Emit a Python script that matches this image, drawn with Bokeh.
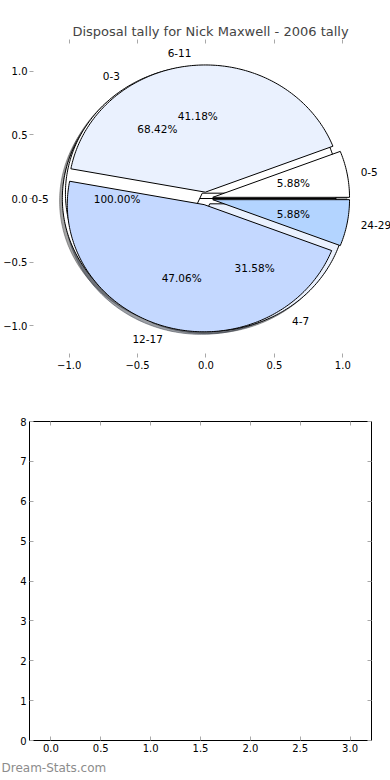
import numpy as np
from bokeh.plotting import figure
from bokeh.layouts import column
from bokeh.models import LinearAxis, FixedTicker, Title, Range1d, Label
from bokeh.embed import file_html
from bokeh.resources import INLINE

# ---------------- data ----------------
title_text = "Disposal tally for Nick Maxwell - 2006 tally"
watermark_text = "Dream-Stats.com"

pie1_labels = ["0-5"]
pie1_values = [1]
pie2_labels = ["0-3", "4-7"]
pie2_values = [13, 6]
pie3_labels = ["0-5", "6-11", "12-17", "24-29"]
pie3_values = [1, 7, 8, 1]

slice_colors = ["#FFFFFF", "#EAF1FE", "#C4D8FF", "#B3D4FF"]
explode_amount = 0.05

pie_ticks = [-1.0, -0.5, 0.0, 0.5, 1.0]
pie_tick_labels = ["\u22121.0", "\u22120.5", "0.0", "0.5", "1.0"]

empty_x_ticks = [0.0, 0.5, 1.0, 1.5, 2.0, 2.5, 3.0]
empty_x_tick_labels = ["0.0", "0.5", "1.0", "1.5", "2.0", "2.5", "3.0"]
empty_y_ticks = [0, 1, 2, 3, 4, 5, 6, 7, 8]

FONT = "DejaVu Sans"
TICK_COLOR = "#A8A8A8"


def shade(hex_color, k=0.3):
    h = hex_color.lstrip("#")
    r, g, b = (int(h[i:i + 2], 16) for i in (0, 2, 4))
    return "#%02X%02X%02X" % (int(r * k), int(g * k), int(b * k))


def build_pie(labels, values):
    total = float(sum(values))
    out = []
    start = 0.0
    for i, (lab, v) in enumerate(zip(labels, values)):
        frac = v / total
        t1 = start * 360.0
        t2 = (start + frac) * 360.0
        tm = np.radians((t1 + t2) / 2.0)
        cx = explode_amount * np.cos(tm)
        cy = explode_amount * np.sin(tm)
        n = max(int(abs(t2 - t1)) + 2, 4)
        ts = np.radians(np.linspace(t1, t2, n))
        xs = [cx] + list(cx + np.cos(ts)) + [cx]
        ys = [cy] + list(cy + np.sin(ts)) + [cy]
        lx = cx + 1.1 * np.cos(tm)
        ly = cy + 1.1 * np.sin(tm)
        px = cx + 0.6 * np.cos(tm)
        py = cy + 0.6 * np.sin(tm)
        out.append(dict(xs=xs, ys=ys, color=slice_colors[i % len(slice_colors)],
                        label=lab, lx=float(lx), ly=float(ly),
                        pct="%.2f%%" % (frac * 100), px=float(px), py=float(py)))
        start += frac
    return out


pies = [build_pie(pie1_labels, pie1_values),
        build_pie(pie2_labels, pie2_values),
        build_pie(pie3_labels, pie3_values)]


def style_ticks(ax, show_labels=True):
    ax.major_tick_in = 4
    ax.major_tick_out = 0
    ax.minor_tick_line_color = None
    ax.major_tick_line_color = TICK_COLOR
    ax.major_label_text_font = FONT
    ax.major_label_text_font_size = "10px"
    ax.major_label_text_color = "black"
    ax.major_label_standoff = 3
    if not show_labels:
        ax.major_label_text_font_size = "0px"
        ax.major_label_text_color = None
        ax.major_label_standoff = 0


# ---------------- pie figure ----------------
# the frame is a little wider than the pie's +-1.25 box so that the outer
# slice labels are not clipped
p = figure(frame_width=362, frame_height=318,
           x_range=Range1d(-1.29, 1.356), y_range=Range1d(-1.25, 1.25),
           min_border_left=27, min_border_right=0,
           min_border_top=39, min_border_bottom=30,
           output_backend="svg", toolbar_location=None,
           title=title_text)
p.title.text_font = FONT
p.title.text_font_size = "13px"
p.title.text_font_style = "normal"
p.title.align = "center"
p.title.standoff = 2
p.grid.visible = False
p.outline_line_color = None

for ax in (p.xaxis[0], p.yaxis[0]):
    ax.ticker = FixedTicker(ticks=pie_ticks)
    ax.major_label_overrides = dict(zip(pie_ticks, pie_tick_labels))
    ax.axis_line_color = None
    style_ticks(ax)
p.yaxis[0].major_label_standoff = 2

top_ax = LinearAxis(ticker=FixedTicker(ticks=pie_ticks), axis_line_color=None)
style_ticks(top_ax, show_labels=False)
p.add_layout(top_ax, "above")

# shadows (all below all wedges)
sh_xs, sh_ys, sh_c = [], [], []
for pie in pies:
    for w in pie:
        sh_xs.append([x - 0.02 for x in w["xs"]])
        sh_ys.append([y - 0.02 for y in w["ys"]])
        sh_c.append(shade(w["color"]))
p.patches(xs=sh_xs, ys=sh_ys, fill_color=sh_c, fill_alpha=0.5,
          line_color=sh_c, line_alpha=0.5, line_width=1)

# wedges, one pie after another
for pie in pies:
    p.patches(xs=[w["xs"] for w in pie], ys=[w["ys"] for w in pie],
              fill_color=[w["color"] for w in pie],
              line_color="black", line_width=1)

# slice labels and percentages
for pie in pies:
    for w in pie:
        p.add_layout(Label(x=w["lx"], y=w["ly"], text=w["label"],
                           text_align="left" if w["lx"] > 0 else "right",
                           text_baseline="middle", text_font=FONT,
                           text_font_size="10.5px", text_color="black"))
        p.add_layout(Label(x=w["px"], y=w["py"], text=w["pct"],
                           text_align="center", text_baseline="middle",
                           text_font=FONT, text_font_size="10.5px",
                           text_color="black"))

# ---------------- empty axes ----------------
q = figure(frame_width=342, frame_height=319,
           x_range=Range1d(-0.215, 3.215), y_range=Range1d(0, 8),
           min_border_left=28, min_border_right=20,
           min_border_top=34, min_border_bottom=40,
           output_backend="svg", toolbar_location=None)
q.grid.visible = False
q.outline_line_color = "black"
q.outline_line_width = 1
q.xaxis[0].ticker = FixedTicker(ticks=empty_x_ticks)
q.xaxis[0].major_label_overrides = dict(zip(empty_x_ticks, empty_x_tick_labels))
q.yaxis[0].ticker = FixedTicker(ticks=empty_y_ticks)
for ax in (q.xaxis[0], q.yaxis[0]):
    ax.axis_line_color = None
    style_ticks(ax)
qt = LinearAxis(ticker=FixedTicker(ticks=empty_x_ticks), axis_line_color=None)
style_ticks(qt, show_labels=False)
q.add_layout(qt, "above")
qr = LinearAxis(ticker=FixedTicker(ticks=empty_y_ticks), axis_line_color=None)
style_ticks(qr, show_labels=False)
q.add_layout(qr, "right")
q.scatter(x=[], y=[])

wm = Title(text=watermark_text, align="left", text_color="#8C8C8C",
           text_font=FONT, text_font_size="12px", text_font_style="normal",
           offset=-28, standoff=8)
q.add_layout(wm, "below")

layout = column(p, q, spacing=0)
open("out.html", "w").write(file_html(layout, INLINE))
